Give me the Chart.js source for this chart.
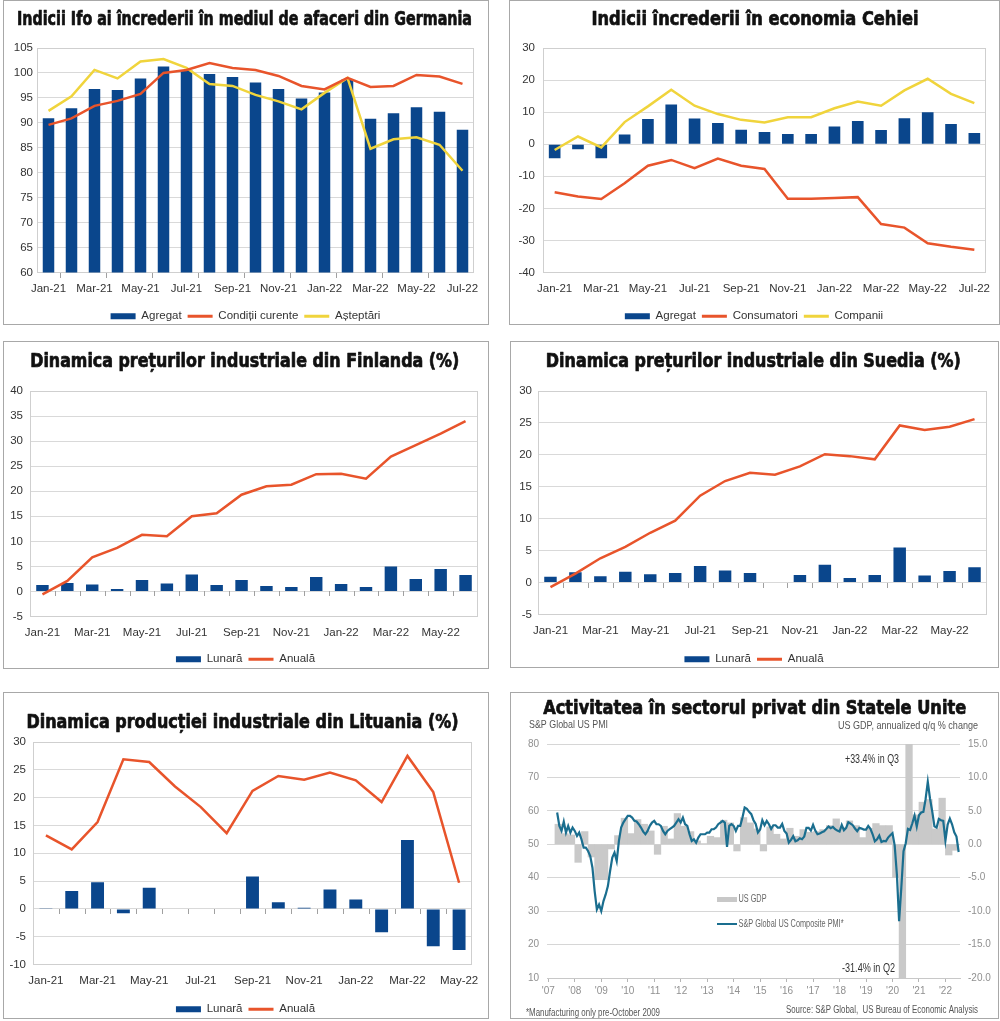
<!DOCTYPE html>
<html>
<head>
<meta charset="utf-8">
<script src="https://cdn.jsdelivr.net/npm/chart.js@4.4.1/dist/chart.umd.min.js"></script>
<style>
  html, body { margin: 0; padding: 0; background: #fff; width: 1000px; height: 1021px; overflow: hidden; }
  .frame { position: absolute; border: 1px solid #a8a8a8; box-sizing: border-box; }
  canvas { position: absolute; }
</style>
</head>
<body>
<div class="frame" style="left:3px;top:0;width:486px;height:325px"></div>
<div class="frame" style="left:509px;top:0;width:491px;height:325px"></div>
<div class="frame" style="left:3px;top:341px;width:486px;height:328px"></div>
<div class="frame" style="left:510px;top:341px;width:489px;height:327px"></div>
<div class="frame" style="left:3px;top:692px;width:486px;height:327px"></div>
<div class="frame" style="left:510px;top:692px;width:489px;height:327px"></div>

<canvas id="de" width="483" height="331" style="left:4px;top:1px"></canvas>
<canvas id="cz" width="488" height="331" style="left:510px;top:1px"></canvas>
<canvas id="fi" width="483" height="333" style="left:4px;top:342px"></canvas>
<canvas id="se" width="486" height="333" style="left:511px;top:342px"></canvas>
<canvas id="lt" width="483" height="332" style="left:4px;top:693px"></canvas>
<canvas id="us" width="486" height="325" style="left:511px;top:693px"></canvas>

<script>
// ---- data ----
const months = ['Jan-21','Feb-21','Mar-21','Apr-21','May-21','Jun-21','Jul-21','Aug-21','Sep-21','Oct-21',
                'Nov-21','Dec-21','Jan-22','Feb-22','Mar-22','Apr-22','May-22','Jun-22','Jul-22'];

// Germany, Ifo (Jan-21 .. Jul-22)
const deAgregat   = [90.9, 92.9, 96.8, 96.6, 98.9, 101.3, 100.6, 99.8, 99.2, 98.1, 96.8, 94.9, 96.1, 98.8, 90.8, 91.9, 93.1, 92.2, 88.6];
const deConditii  = [89.6, 90.9, 93.4, 94.4, 95.8, 100.0, 100.6, 102.0, 101.0, 100.6, 99.4, 97.4, 96.7, 99.0, 97.2, 97.4, 99.6, 99.3, 97.8];
const deAsteptari = [92.4, 95.3, 100.6, 98.9, 102.3, 102.8, 101.0, 97.8, 97.4, 95.6, 94.3, 92.7, 96.0, 99.0, 84.8, 86.7, 87.1, 85.6, 80.4];

// Czech Republic (Jan-21 .. Jul-22)
const czAgregat     = [-4.4, -1.6, -4.4, 3.0, 7.9, 12.4, 8.0, 6.6, 4.5, 3.8, 3.2, 3.2, 5.5, 7.2, 4.4, 8.1, 10.0, 6.3, 3.5];
const czConsumatori = [-15.0, -16.3, -17.1, -12.2, -6.7, -4.9, -7.5, -4.5, -6.7, -7.7, -17.0, -17.0, -16.8, -16.5, -24.9, -26.0, -30.9, -32.0, -32.9];
const czCompanii    = [-1.8, 2.4, -1.0, 6.9, 11.8, 17.0, 12.0, 9.4, 7.6, 6.8, 8.4, 8.4, 11.2, 13.3, 12.0, 16.8, 20.4, 15.7, 12.8];

// Finland (Jan-21 .. Jun-22)
const fiLunara = [1.3, 1.7, 1.4, 0.5, 2.3, 1.6, 3.4, 1.3, 2.3, 1.1, 0.9, 2.9, 1.5, 0.9, 5.0, 2.5, 4.5, 3.3];
const fiAnuala = [-0.6, 2.1, 6.8, 8.7, 11.3, 11.0, 15.0, 15.6, 19.3, 21.0, 21.3, 23.4, 23.5, 22.5, 26.9, 29.2, 31.5, 34.0];

// Sweden (Jan-21 .. Jun-22)
const seLunara = [0.9, 1.6, 1.0, 1.7, 1.3, 1.5, 2.6, 1.9, 1.5, 0.1, 1.2, 2.8, 0.7, 1.2, 5.5, 1.1, 1.8, 2.4];
const seAnuala = [-0.7, 1.4, 3.8, 5.6, 7.8, 9.7, 13.6, 15.9, 17.2, 16.9, 18.2, 20.1, 19.8, 19.3, 24.6, 23.9, 24.4, 25.6];

// Lithuania (Jan-21 .. May-22)
const ltLunara = [0.1, 3.2, 4.8, -0.8, 3.8, -0.1, -0.1, 0.0, 5.8, 1.2, 0.2, 3.5, 1.7, -4.2, 12.4, -6.7, -7.4];
const ltAnuala = [13.2, 10.7, 15.6, 26.9, 26.4, 22.0, 18.3, 13.6, 21.2, 23.9, 23.2, 24.5, 23.1, 19.2, 27.5, 21.0, 4.7];

// US composite PMI, monthly from May 2007 to Jul 2022
const pmiFirstMonth = 2007 + 4 / 12;
const pmiComposite = [
  59.5, 55.5, 54.0, 56.8, 53.5, 55.5, 53.5, 55.0,
  54.0, 52.5, 53.5, 51.5, 49.0, 49.0, 48.0, 46.5, 43.0, 36.0, 30.5, 32.0,
  30.0, 33.0, 35.0, 37.5, 42.0, 46.0, 47.5, 45.0, 51.0, 55.0, 56.5, 57.5,
  58.5, 58.5, 58.0, 57.0, 56.8, 56.0, 55.0, 53.8, 53.0, 54.0, 55.5, 56.5,
  57.0, 56.0, 56.0, 55.5, 54.0, 53.0, 54.0, 54.5, 55.0, 55.5, 56.5, 57.5,
  56.5, 58.0, 56.0, 55.5, 53.0, 51.0, 51.5, 50.5, 52.0, 53.0, 53.0, 53.0,
  53.5, 53.5, 54.5, 54.5, 55.0, 56.0, 56.5, 57.0, 56.5, 49.2, 55.5, 56.0,
  55.5, 54.0, 55.5, 55.5, 58.0, 61.0, 60.6, 59.7, 59.0, 57.2, 56.1, 53.5,
  54.4, 57.2, 55.7, 57.0, 56.0, 54.6, 55.7, 55.7, 55.0, 55.0, 56.1, 54.0,
  53.2, 50.5, 51.3, 52.4, 50.9, 51.2, 51.8, 51.5, 52.3, 54.9, 54.9, 54.1,
  55.8, 54.1, 53.0, 53.2, 53.6, 53.9, 54.6, 55.3, 54.8, 55.2, 54.5, 54.1,
  53.8, 55.8, 54.2, 54.9, 56.6, 56.2, 55.7, 54.7, 53.9, 54.9, 54.7, 54.4,
  54.4, 55.5, 54.6, 53.0, 50.9, 51.5, 52.6, 50.7, 51.0, 50.9, 52.0, 52.7,
  53.3, 49.6, 40.9, 27.0, 37.0, 47.9, 50.3, 54.6, 54.3, 56.3, 58.6, 55.3,
  58.7, 59.5, 59.7, 63.5, 68.7, 63.7, 59.9, 55.4, 55.0, 57.6, 57.2, 57.0,
  51.1, 55.9, 57.7, 56.0, 53.6, 52.3, 47.7
];

// US GDP, annualized q/q %, quarterly from 2007 Q2 to 2022 Q2
const gdpFirstQuarter = 2007.25;
const gdpChange = [
  3.0, 1.6, 1.4,
  -2.7, 1.9, -1.9, -5.3,
  -5.3, -0.7, 1.3, 3.9,
  1.6, 3.7, 3.0, 2.0,
  -1.5, 2.7, 0.8, 4.6,
  2.7, 1.9, 0.5, 0.1,
  1.2, 1.0, 3.6, 3.2,
  -1.0, 4.0, 3.2, 2.3,
  -1.0, 2.6, 1.5, 0.8,
  2.4, 1.2, 2.2, 1.8,
  1.9, 2.2, 2.8, 3.8,
  2.5, 3.5, 2.8, 1.0,
  2.4, 3.1, 2.8, 2.8,
  -5.0, -31.4, 33.4, 4.4,
  6.3, 6.7, 2.3, 6.9,
  -1.6, -0.9
];
const pmiYears = [2007, 2008, 2009, 2010, 2011, 2012, 2013, 2014, 2015, 2016, 2017, 2018, 2019, 2020, 2021, 2022];

// ---- styles ----
const BLUE = '#0a468c';
const RED = '#e8542b';
const YELLOW = '#f0d43c';
const TEAL = '#1a6e8f';
const TEXT = '#333';
const SANS = "'Liberation Sans', Arial, sans-serif";
const TITLE_FAMILY = "'DejaVu Sans Condensed', 'DejaVu Sans', sans-serif";
const TICK_FONT = { family: SANS, size: 11.5 };

Chart.defaults.font.family = SANS;

// write a text squeezed or stretched to the width it has in the picture
function fitText(ctx, s, x, y, align, font, color, width, heavy) {
  ctx.save();
  ctx.font = font;
  const w = ctx.measureText(s).width;
  ctx.translate(x, y);
  ctx.scale(width / w, 1);
  ctx.fillStyle = color;
  ctx.textAlign = align;
  ctx.textBaseline = 'middle';
  ctx.fillText(s, 0, 0);
  if (heavy) {
    ctx.strokeStyle = color;
    ctx.lineWidth = heavy;
    ctx.lineJoin = 'round';
    ctx.strokeText(s, 0, 0);
  }
  ctx.restore();
}

// condensed heavy title on top of every panel
const panelTitle = {
  id: 'panelTitle',
  afterDraw(chart, args, o) {
    if (!o || !o.text) return;
    fitText(chart.ctx, o.text, o.x, o.y, 'center', 'bold 20px ' + TITLE_FAMILY, '#111', o.width, 0.7);
  }
};

// light frame round the plot area
const plotFrame = {
  id: 'plotFrame',
  beforeDatasetsDraw(chart) {
    const a = chart.chartArea, ctx = chart.ctx;
    ctx.save();
    ctx.strokeStyle = '#cfcfcf';
    ctx.lineWidth = 1;
    ctx.strokeRect(Math.round(a.left) + 0.5, Math.round(a.top) + 0.5, Math.round(a.width) - 1, Math.round(a.height) - 1);
    ctx.restore();
  }
};

// small tick marks between categories on the category axis line
const catTicks = {
  id: 'catTicks',
  afterDatasetsDraw(chart, args, o) {
    if (!o || !o.step) return;
    const x = chart.scales.x, y = chart.scales.y, ctx = chart.ctx;
    const y0 = Math.round(y.getPixelForValue(o.at));
    const n = chart.data.labels.length;
    ctx.save();
    ctx.strokeStyle = '#a0a0a0';
    ctx.lineWidth = 1;
    ctx.beginPath();
    for (let i = o.first; i < n; i += o.step) {
      const px = Math.round((x.getPixelForValue(i - 1) + x.getPixelForValue(i)) / 2) + 0.5;
      ctx.moveTo(px, y0);
      ctx.lineTo(px, y0 + 5);
    }
    ctx.stroke();
    ctx.restore();
  }
};

function legendItems(chart) {
  const items = Chart.defaults.plugins.legend.labels.generateLabels(chart);
  items.forEach((it) => {
    const ds = chart.data.datasets[it.datasetIndex];
    if (ds.type === 'line') {
      it.pointStyle = 'line';
      it.strokeStyle = ds.borderColor;
      it.lineWidth = 3;
    } else {
      it.pointStyle = 'rect';
    }
  });
  return items;
}

function comboChart(id, p) {
  const datasets = [{
    type: 'bar', label: p.barLabel, data: p.bars, backgroundColor: BLUE,
    barPercentage: 0.5, categoryPercentage: 1, order: 2
  }];
  p.lines.forEach((l) => {
    datasets.push({
      type: 'line', label: l.label, data: l.data, borderColor: l.color, backgroundColor: l.color,
      borderWidth: 2.5, pointRadius: 0, tension: 0, order: 1
    });
  });
  return new Chart(document.getElementById(id), {
    type: 'bar',
    data: { labels: p.labels, datasets: datasets },
    plugins: [plotFrame, catTicks, panelTitle],
    options: {
      responsive: false,
      animation: false,
      events: [],
      layout: { padding: { top: p.top, left: 0, right: 0, bottom: 0 } },
      plugins: {
        title: { display: false },
        panelTitle: p.title,
        legend: {
          position: 'bottom',
          labels: {
            usePointStyle: true, pointStyleWidth: 25, boxHeight: 6, padding: 6,
            color: TEXT, font: TICK_FONT, generateLabels: legendItems,
            sort: (a, b) => a.datasetIndex - b.datasetIndex
          }
        },
        tooltip: { enabled: false },
        catTicks: p.ticks || {}
      },
      scales: {
        x: {
          grid: { display: false },
          border: { display: false },
          ticks: {
            autoSkip: false, maxRotation: 0, minRotation: 0, padding: 1, color: TEXT, font: TICK_FONT,
            callback(v, i) { return i % 2 === 0 ? this.getLabelForValue(v) : ''; }
          },
          afterFit: (s) => { s.height = p.xHeight; }
        },
        y: {
          min: p.min, max: p.max,
          ticks: { stepSize: p.step, padding: p.yPad, color: TEXT, font: TICK_FONT },
          grid: { color: '#d9d9d9', drawTicks: false },
          border: { color: '#bdbdbd' },
          afterFit: (s) => { s.width = p.yWidth; }
        },
        pad: {
          type: 'linear', position: 'right', display: true,
          grid: { display: false }, border: { display: false }, ticks: { display: false },
          afterFit: (s) => { s.width = p.padRight; }
        }
      }
    }
  });
}

comboChart('de', {
  title: { text: 'Indicii Ifo ai încrederii în mediul de afaceri din Germania', x: 240.5, y: 19, width: 455 },
  labels: months, barLabel: 'Agregat', bars: deAgregat,
  lines: [
    { label: 'Condiții curente', data: deConditii, color: RED },
    { label: 'Așteptări', data: deAsteptari, color: YELLOW }
  ],
  min: 60, max: 105, step: 5,
  top: 47, yWidth: 33, yPad: 4, padRight: 13, xHeight: 32,
  ticks: { at: 60, first: 1, step: 2 }
});

comboChart('cz', {
  title: { text: 'Indicii încrederii în economia Cehiei', x: 245, y: 19, width: 327 },
  labels: months, barLabel: 'Agregat', bars: czAgregat,
  lines: [
    { label: 'Consumatori', data: czConsumatori, color: RED },
    { label: 'Companii', data: czCompanii, color: YELLOW }
  ],
  min: -40, max: 30, step: 10,
  top: 47, yWidth: 33, yPad: 8, padRight: 12, xHeight: 32
});

comboChart('fi', {
  title: { text: 'Dinamica prețurilor industriale din Finlanda (%)', x: 240.7, y: 19.7, width: 429 },
  labels: months.slice(0, 18), barLabel: 'Lunară', bars: fiLunara,
  lines: [{ label: 'Anuală', data: fiAnuala, color: RED }],
  min: -5, max: 40, step: 5,
  top: 49, yWidth: 26, yPad: 7, padRight: 9, xHeight: 31,
  ticks: { at: 0, first: 1, step: 1 }
});

comboChart('se', {
  title: { text: 'Dinamica prețurilor industriale din Suedia (%)', x: 242.3, y: 19.7, width: 415 },
  labels: months.slice(0, 18), barLabel: 'Lunară', bars: seLunara,
  lines: [{ label: 'Anuală', data: seAnuala, color: RED }],
  min: -5, max: 30, step: 5,
  top: 49, yWidth: 27, yPad: 6, padRight: 10, xHeight: 33,
  ticks: { at: 0, first: 1, step: 1 }
});

comboChart('lt', {
  title: { text: 'Dinamica producției industriale din Lituania (%)', x: 238.5, y: 29.7, width: 432 },
  labels: months.slice(0, 17), barLabel: 'Lunară', bars: ltLunara,
  lines: [{ label: 'Anuală', data: ltAnuala, color: RED }],
  min: -10, max: 30, step: 5,
  top: 49, yWidth: 29, yPad: 7, padRight: 15, xHeight: 33,
  ticks: { at: 0, first: 1, step: 1 }
});

// ---- US panel ----
const usNotes = {
  id: 'usNotes',
  afterDraw(chart) {
    const c = chart.ctx;
    fitText(c, 'S&P Global US PMI', 18, 32, 'left', '11px ' + SANS, '#555', 79);
    fitText(c, 'US GDP, annualized q/q % change', 467, 33, 'right', '11px ' + SANS, '#555', 140);
    fitText(c, '+33.4% in Q3', 388, 67, 'right', '12px ' + SANS, '#333', 54);
    fitText(c, '-31.4% in Q2', 384, 276, 'right', '12px ' + SANS, '#333', 53);
    c.save();
    c.fillStyle = '#c8c8c8';
    c.fillRect(206, 204, 20, 5);
    c.strokeStyle = TEAL;
    c.lineWidth = 2;
    c.beginPath();
    c.moveTo(206, 231);
    c.lineTo(226, 231);
    c.stroke();
    c.restore();
    fitText(c, 'US GDP', 227.5, 206.5, 'left', '10px ' + SANS, '#666', 28);
    fitText(c, 'S&P Global US Composite PMI*', 227.5, 231, 'left', '10px ' + SANS, '#666', 105);
    fitText(c, '*Manufacturing only pre-October 2009', 15, 320, 'left', '10px ' + SANS, '#555', 134);
    fitText(c, 'Source: S&P Global,  US Bureau of Economic Analysis', 467, 317, 'right', '10px ' + SANS, '#555', 192);
  }
};

const US_TICK = { family: SANS, size: 10 };

new Chart(document.getElementById('us'), {
  type: 'bar',
  data: {
    datasets: [
      {
        type: 'line', label: 'S&P Global US Composite PMI*',
        data: pmiComposite.map((v, i) => ({ x: pmiFirstMonth + i / 12, y: v })),
        borderColor: TEAL, borderWidth: 2.2, pointRadius: 0, tension: 0, yAxisID: 'y', order: 1
      },
      {
        type: 'bar', label: 'US GDP',
        data: gdpChange.map((v, i) => ({ x: gdpFirstQuarter + 0.125 + i * 0.25, y: v })),
        backgroundColor: '#c9c9c9', barPercentage: 1, categoryPercentage: 1, yAxisID: 'y2', order: 2
      }
    ]
  },
  plugins: [usNotes, panelTitle],
  options: {
    responsive: false,
    animation: false,
    events: [],
    layout: { padding: { left: 0, right: 0, top: 51, bottom: 20 } },
    plugins: {
      title: { display: false },
      panelTitle: { text: 'Activitatea în sectorul privat din Statele Unite', x: 243.7, y: 16, width: 423 },
      legend: { display: false },
      tooltip: { enabled: false }
    },
    scales: {
      x: {
        type: 'linear', min: 2006.95, max: 2022.55, offset: false,
        afterBuildTicks: (s) => { s.ticks = pmiYears.map((v) => ({ value: v })); },
        ticks: {
          autoSkip: false, maxRotation: 0, minRotation: 0, padding: 3, color: '#909090', font: US_TICK,
          callback: (v) => "'" + String(v).slice(2)
        },
        grid: { drawOnChartArea: false, offset: false, tickLength: 4, color: '#b5b5b5' },
        border: { display: true, color: '#c8c8c8' },
        afterFit: (s) => { s.height = 20; }
      },
      y: {
        position: 'left', min: 10, max: 80,
        ticks: { stepSize: 10, padding: 8, color: '#909090', font: US_TICK },
        grid: { color: '#d6d6d6', drawTicks: false },
        border: { display: false },
        afterFit: (s) => { s.width = 36; }
      },
      y2: {
        position: 'right', min: -20, max: 15,
        ticks: { stepSize: 5, padding: 8, color: '#909090', font: US_TICK, callback: (v) => v.toFixed(1) },
        grid: { drawOnChartArea: false, drawTicks: false },
        border: { display: false },
        afterFit: (s) => { s.width = 37; }
      }
    }
  }
});
</script>
</body>
</html>
